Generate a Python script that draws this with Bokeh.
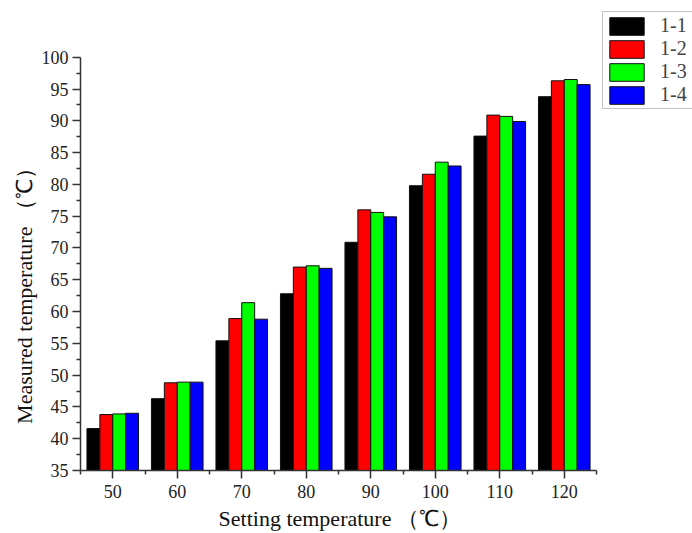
import numpy as np
from bokeh.plotting import figure
from bokeh.models import ColumnDataSource, FixedTicker, Legend, LegendItem, Range1d
from bokeh.transform import dodge
from bokeh.embed import file_html
from bokeh.resources import INLINE

categories = [50, 60, 70, 80, 90, 100, 110, 120]
s1_1 = [41.6, 46.3, 55.4, 62.8, 70.9, 79.8, 87.6, 93.8]
s1_2 = [43.8, 48.8, 58.9, 67.0, 76.0, 81.6, 90.9, 96.3]
s1_3 = [43.9, 48.9, 61.4, 67.2, 75.6, 83.5, 90.7, 96.5]
s1_4 = [44.0, 48.9, 58.8, 66.8, 74.9, 82.9, 89.9, 95.7]
series_names = ["1-1", "1-2", "1-3", "1-4"]
y_ticks = [35, 40, 45, 50, 55, 60, 65, 70, 75, 80, 85, 90, 95, 100]

colors = ["#000000", "#ff0000", "#00ff00", "#0000ff"]
offsets = [-3, -1, 1, 3]
FONT = "Liberation Serif"

src = ColumnDataSource(dict(x=categories, s1=s1_1, s2=s1_2, s3=s1_3, s4=s1_4))

# frame extends over the legend area; axes limited with bounds
p = figure(width=692, height=533, output_backend="svg", toolbar_location=None,
           x_range=Range1d(45, 139.88), y_range=Range1d(35, 108.93),
           min_border_left=80, min_border_right=0, min_border_top=0, min_border_bottom=61)
p.outline_line_color = None
p.xgrid.visible = False
p.ygrid.visible = False
p.background_fill_color = "white"

renderers = []
for i, key in enumerate(["s1", "s2", "s3", "s4"]):
    r = p.vbar(x=dodge("x", offsets[i]), top=key, bottom=35, width=2, source=src,
               fill_color=colors[i], line_color="#111111", line_width=1)
    renderers.append(r)

p.xaxis.ticker = FixedTicker(ticks=categories, minor_ticks=[45 + 10 * k for k in range(9)])
p.yaxis.ticker = FixedTicker(ticks=y_ticks, minor_ticks=[37.5 + 5 * k for k in range(13)])
p.xaxis.bounds = (45, 125)
p.yaxis.bounds = (35, 100)

for ax in (p.xaxis, p.yaxis):
    ax.axis_line_color = "#333333"
    ax.axis_line_width = 1.5
    ax.major_tick_line_color = "#333333"
    ax.minor_tick_line_color = "#333333"
    ax.major_tick_line_width = 1.5
    ax.minor_tick_line_width = 1.5
    ax.major_tick_out = 8
    ax.major_tick_in = 0
    ax.minor_tick_out = 4
    ax.minor_tick_in = 0
    ax.major_label_text_font = FONT
    ax.major_label_text_font_size = "18px"
    ax.major_label_text_color = "#222222"
    ax.axis_label_text_font = FONT
    ax.axis_label_text_font_size = "22px"
    ax.axis_label_text_font_style = "normal"
    ax.axis_label_text_color = "#111111"
p.xaxis.major_label_standoff = 6
p.yaxis.major_label_standoff = 4

# trailing blank space shifts the centred titles to where the reference has them
p.yaxis.axis_label = "Measured temperature （℃）" + "\u3000" * 4 + "\u00a0" * 4
p.xaxis.axis_label = "Setting temperature （℃）" + "\u3000" * 4 + "\u00a0"
p.yaxis.axis_label_standoff = 2
p.xaxis.axis_label_standoff = 5

legend = Legend(items=[LegendItem(label=series_names[i], renderers=[renderers[i]]) for i in range(4)],
                location=(522, 361), orientation="vertical",
                glyph_width=43, glyph_height=22, label_height=22, label_width=40,
                label_standoff=12, padding=2, spacing=0, margin=0,
                label_text_font=FONT, label_text_font_size="20px",
                border_line_color="#888888", border_line_width=1.5,
                background_fill_color="white", background_fill_alpha=1.0)
p.add_layout(legend)

open("out.html", "w").write(file_html(p, INLINE))
